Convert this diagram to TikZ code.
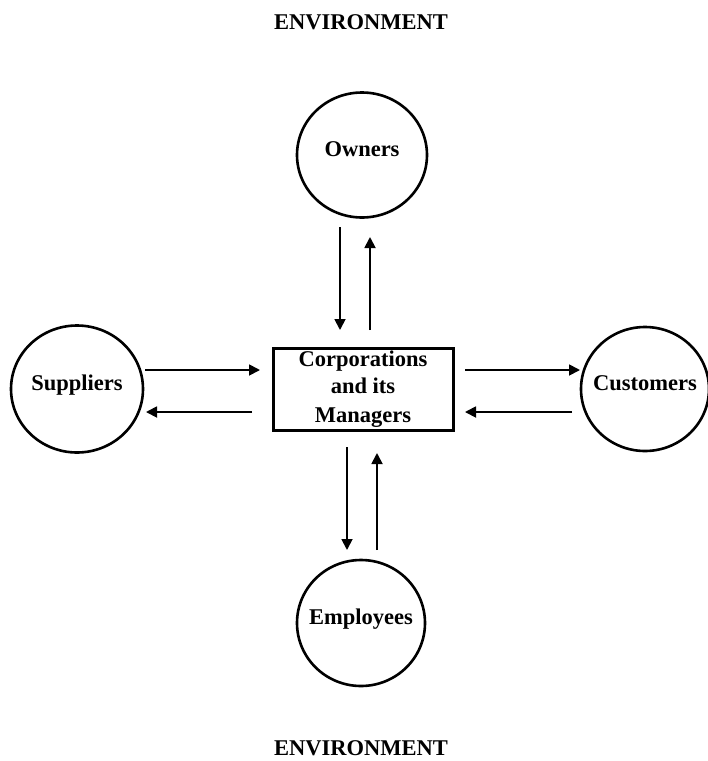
\documentclass[tikz,border=0pt]{standalone}
\usepackage{fontspec}
\setmainfont{Liberation Serif}
\usetikzlibrary{shapes.geometric,arrows.meta,calc}
\tikzset{
  actor/.style={ellipse,draw,line width=2.6pt,inner sep=0pt},
  actortext/.style={inner sep=0pt,font=\fontsize{22.5}{28}\selectfont\bfseries,
    text height=12pt,text depth=10pt},
  corpbox/.style={rectangle,draw,line width=3pt,minimum width=180pt,minimum height=82pt,
    inner sep=0pt,align=center,font=\fontsize{22.5}{29}\selectfont\bfseries},
  envlabel/.style={anchor=base,inner sep=0pt,font=\fontsize{22.5}{28}\selectfont\bfseries},
  flow/.style={line width=1.8pt,-{Triangle[length=11pt,width=11pt]}}
}
\begin{document}
\begin{tikzpicture}[x=1pt,y=-1pt]
\useasboundingbox (0,0) rectangle (708,761);
\node[envlabel] (envtop) at (361,29) {ENVIRONMENT};
\node[envlabel] (envbot) at (361,755) {ENVIRONMENT};
\node[corpbox] (corp) at (363,389) {\raisebox{-2pt}{Corporations}\\and its\\Managers};
\node[actor,minimum width=130pt,minimum height=125pt,
  label={[actortext]center:Owners}] (owners) at (362,155) {};
\node[actor,minimum width=132pt,minimum height=127pt,
  label={[actortext]center:Suppliers}] (sup) at (77,389) {};
\node[actor,minimum width=128pt,minimum height=124pt,
  label={[actortext]center:Customers}] (cus) at (645,389) {};
\node[actor,minimum width=128pt,minimum height=126pt,
  label={[actortext]center:Employees}] (emp) at (361,623) {};
% owners
\draw[flow] ($(owners.center)+(-22,72)$) -- ($(corp.center)+(-23,-59)$);
\draw[flow] ($(corp.center)+(7,-59)$) -- ($(owners.center)+(8,82)$);
% employees
\draw[flow] ($(corp.center)+(-16,58)$) -- ($(emp.center)+(-14,-73)$);
\draw[flow] ($(emp.center)+(16,-73)$) -- ($(corp.center)+(14,64)$);
% suppliers
\draw[flow] ($(sup.center)+(68,-19)$) -- ($(corp.center)+(-103,-19)$);
\draw[flow] ($(corp.center)+(-111,23)$) -- ($(sup.center)+(69,23)$);
% customers
\draw[flow] ($(corp.center)+(102,-19)$) -- ($(cus.center)+(-65,-19)$);
\draw[flow] ($(cus.center)+(-73,23)$) -- ($(corp.center)+(102,23)$);
\end{tikzpicture}
\end{document}
